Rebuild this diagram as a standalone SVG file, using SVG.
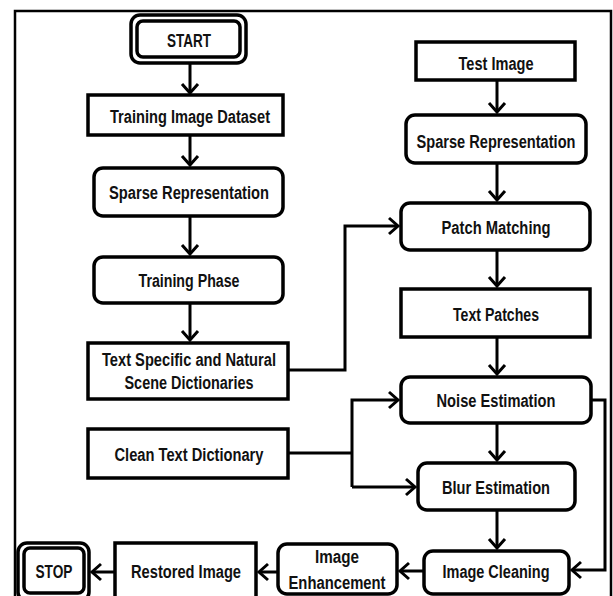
<svg xmlns="http://www.w3.org/2000/svg" width="613" height="596" viewBox="0 0 613 596">
<style>
.box{fill:#fff;stroke:#000;stroke-width:3.5}
.t{font-family:"Liberation Sans",Arial,sans-serif;font-weight:bold;font-size:18px;fill:#111;text-anchor:middle}
.ln{fill:none;stroke:#000;stroke-width:3}
.ar{fill:none;stroke:#000;stroke-width:3;marker-end:url(#ah)}
</style>
<defs>
<marker id="ah" markerUnits="userSpaceOnUse" viewBox="-12 -10 14 20" refX="0" refY="0" markerWidth="14" markerHeight="20" orient="auto">
<path d="M-9,-8 L0,0 L-9,8" fill="none" stroke="#000" stroke-width="3"/>
</marker>
</defs>
<rect x="15" y="11" width="596" height="600" fill="#fff" stroke="#000" stroke-width="2.5"/>
<g id="connectors">
<line class="ar" x1="190" y1="63" x2="190" y2="93"/>
<line class="ar" x1="190" y1="135" x2="190" y2="165"/>
<line class="ar" x1="190" y1="216" x2="190" y2="254"/>
<line class="ar" x1="190" y1="303" x2="190" y2="340"/>
<polyline class="ar" points="288,370 345,370 345,226 398,226"/>
<line class="ar" x1="497" y1="80" x2="497" y2="112"/>
<line class="ar" x1="497" y1="163" x2="497" y2="200"/>
<line class="ar" x1="497" y1="250" x2="497" y2="286"/>
<line class="ar" x1="497" y1="337" x2="497" y2="374"/>
<line class="ln" x1="288" y1="453" x2="352" y2="453"/>
<polyline class="ar" points="352,487 352,400 398,400"/>
<line class="ar" x1="352" y1="487" x2="415" y2="487"/>
<line class="ar" x1="497" y1="423" x2="497" y2="460"/>
<line class="ar" x1="497" y1="510" x2="497" y2="548"/>
<polyline class="ar" points="591,400 605,400 605,570 572,570"/>
<line class="ar" x1="424" y1="571" x2="400" y2="571"/>
<line class="ar" x1="278" y1="572" x2="259" y2="572"/>
<line class="ar" x1="115" y1="572" x2="92" y2="572"/>
</g>
<g id="start">
<rect class="box" x="131" y="15" width="115" height="48" rx="9"/>
<rect class="box" x="137" y="21" width="103" height="36" rx="6"/>
<text class="t" x="189" y="47" textLength="44" lengthAdjust="spacingAndGlyphs">START</text>
</g>
<g id="training-image-dataset">
<rect class="box" x="88" y="95" width="195" height="40"/>
<text class="t" x="190" y="123" textLength="160" lengthAdjust="spacingAndGlyphs">Training Image Dataset</text>
</g>
<g id="sparse-left">
<rect class="box" x="94" y="168" width="189" height="48" rx="9"/>
<text class="t" x="189" y="199" textLength="160" lengthAdjust="spacingAndGlyphs">Sparse Representation</text>
</g>
<g id="training-phase">
<rect class="box" x="94" y="257" width="189" height="46" rx="9"/>
<text class="t" x="189" y="287" textLength="101" lengthAdjust="spacingAndGlyphs">Training Phase</text>
</g>
<g id="dictionaries">
<rect class="box" x="88" y="343" width="200" height="56"/>
<text class="t" x="189" y="366" textLength="174" lengthAdjust="spacingAndGlyphs">Text Specific and Natural</text>
<text class="t" x="189" y="389" textLength="129" lengthAdjust="spacingAndGlyphs">Scene Dictionaries</text>
</g>
<g id="clean-text-dictionary">
<rect class="box" x="88" y="429" width="200" height="49"/>
<text class="t" x="189" y="461" textLength="149" lengthAdjust="spacingAndGlyphs">Clean Text Dictionary</text>
</g>
<g id="test-image">
<rect class="box" x="416" y="42" width="159" height="38"/>
<text class="t" x="496" y="70" textLength="75" lengthAdjust="spacingAndGlyphs">Test Image</text>
</g>
<g id="sparse-right">
<rect class="box" x="406" y="115" width="180" height="48" rx="9"/>
<text class="t" x="496" y="148" textLength="159" lengthAdjust="spacingAndGlyphs">Sparse Representation</text>
</g>
<g id="patch-matching">
<rect class="box" x="401" y="203" width="189" height="47" rx="9"/>
<text class="t" x="496" y="234" textLength="109" lengthAdjust="spacingAndGlyphs">Patch Matching</text>
</g>
<g id="text-patches">
<rect class="box" x="401" y="289" width="189" height="48"/>
<text class="t" x="496" y="321" textLength="86" lengthAdjust="spacingAndGlyphs">Text Patches</text>
</g>
<g id="noise-estimation">
<rect class="box" x="401" y="377" width="190" height="46" rx="9"/>
<text class="t" x="496" y="407" textLength="119" lengthAdjust="spacingAndGlyphs">Noise Estimation</text>
</g>
<g id="blur-estimation">
<rect class="box" x="418" y="463" width="157" height="47" rx="9"/>
<text class="t" x="496" y="494" textLength="108" lengthAdjust="spacingAndGlyphs">Blur Estimation</text>
</g>
<g id="image-cleaning">
<rect class="box" x="424" y="551" width="145" height="43" rx="9"/>
<text class="t" x="496" y="578" textLength="107" lengthAdjust="spacingAndGlyphs">Image Cleaning</text>
</g>
<g id="image-enhancement">
<rect class="box" x="278" y="544" width="119" height="50" rx="9"/>
<text class="t" x="337" y="563" textLength="44" lengthAdjust="spacingAndGlyphs">Image</text>
<text class="t" x="337" y="589" textLength="97" lengthAdjust="spacingAndGlyphs">Enhancement</text>
</g>
<g id="restored-image">
<rect class="box" x="115" y="543" width="141" height="58"/>
<text class="t" x="186" y="578" textLength="110" lengthAdjust="spacingAndGlyphs">Restored Image</text>
</g>
<g id="stop">
<rect class="box" x="18" y="543" width="71" height="58" rx="9"/>
<rect class="box" x="24" y="548" width="60" height="45" rx="6"/>
<text class="t" x="54" y="578" textLength="37" lengthAdjust="spacingAndGlyphs">STOP</text>
</g>
</svg>
